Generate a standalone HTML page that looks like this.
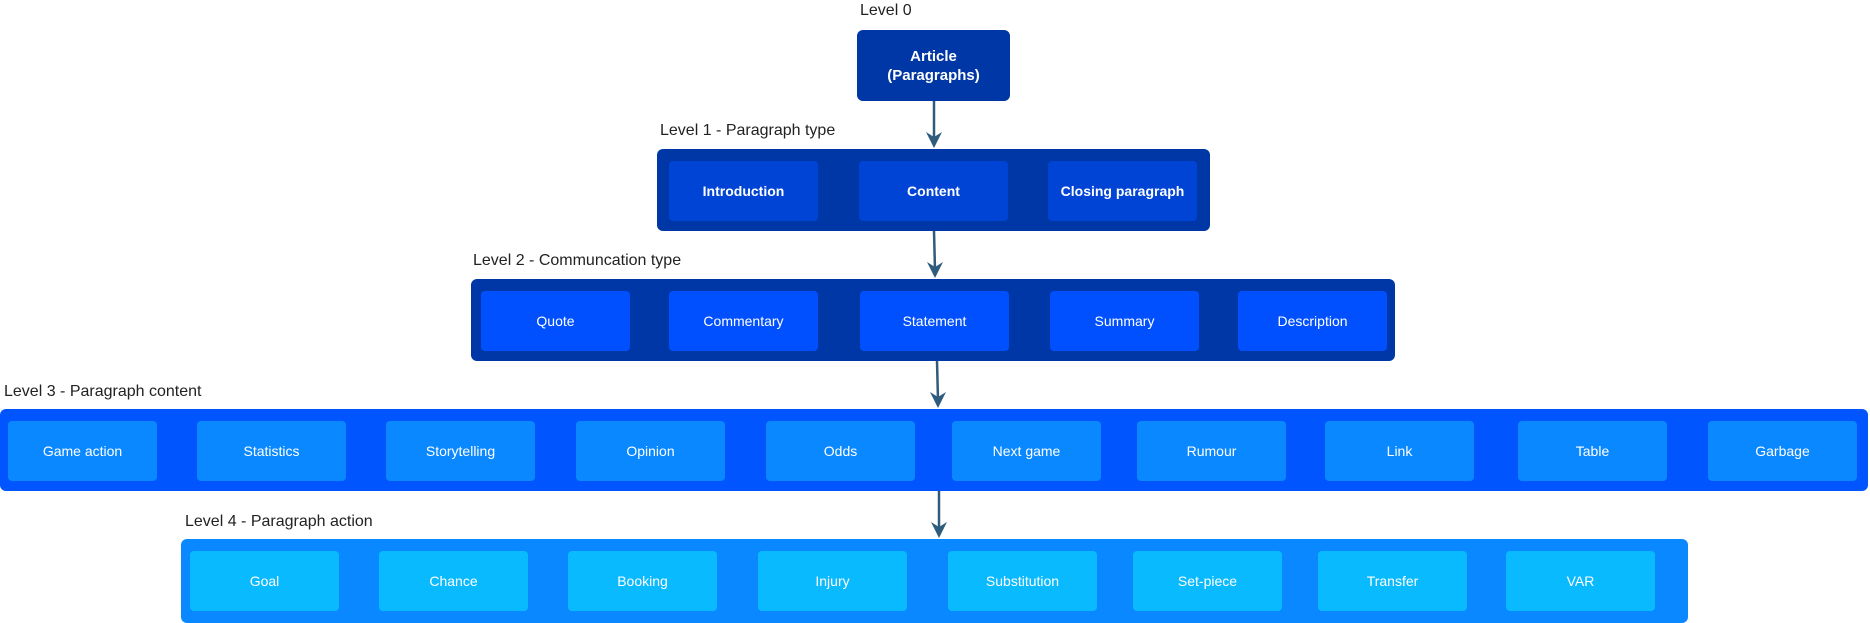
<!DOCTYPE html>
<html><head><meta charset="utf-8"><style>
body{margin:0;width:1870px;height:622px;background:#fff;position:relative;overflow:hidden;font-family:"Liberation Sans",Arial,sans-serif}
.l{position:absolute;font-size:16px;color:#222;white-space:nowrap;line-height:18px}
.c{position:absolute;border-radius:6px}
.b{position:absolute;border-radius:4px;color:#fff;font-size:14px;display:flex;align-items:center;justify-content:center;text-align:center;line-height:19px}
.bold{font-weight:bold}
</style></head><body>
<div class="l" style="left:860px;top:2px">Level 0</div>
<div class="b bold" style="left:857px;top:30px;width:153px;height:71px;background:#0037A6;border-radius:6px;font-size:15px">Article<br>(Paragraphs)</div>

<div class="l" style="left:660px;top:122px">Level 1 - Paragraph type</div>
<div class="c" style="left:657px;top:149px;width:553px;height:82px;background:#0037A6"></div>
<div class="b bold" style="left:669px;top:161px;width:149px;height:60px;background:#0044D6">Introduction</div>
<div class="b bold" style="left:859px;top:161px;width:149px;height:60px;background:#0044D6">Content</div>
<div class="b bold" style="left:1048px;top:161px;width:149px;height:60px;background:#0044D6">Closing paragraph</div>

<div class="l" style="left:473px;top:252px">Level 2 - Communcation type</div>
<div class="c" style="left:471px;top:279px;width:924px;height:82px;background:#0037A6"></div>
<div class="b" style="left:481px;top:291px;width:149px;height:60px;background:#0050FF">Quote</div>
<div class="b" style="left:669px;top:291px;width:149px;height:60px;background:#0050FF">Commentary</div>
<div class="b" style="left:860px;top:291px;width:149px;height:60px;background:#0050FF">Statement</div>
<div class="b" style="left:1050px;top:291px;width:149px;height:60px;background:#0050FF">Summary</div>
<div class="b" style="left:1238px;top:291px;width:149px;height:60px;background:#0050FF">Description</div>

<div class="l" style="left:4px;top:383px">Level 3 - Paragraph content</div>
<div class="c" style="left:0px;top:409px;width:1868px;height:82px;background:#0055FF"></div>
<div class="b" style="left:8px;top:421px;width:149px;height:60px;background:#0A88FF">Game action</div>
<div class="b" style="left:197px;top:421px;width:149px;height:60px;background:#0A88FF">Statistics</div>
<div class="b" style="left:386px;top:421px;width:149px;height:60px;background:#0A88FF">Storytelling</div>
<div class="b" style="left:576px;top:421px;width:149px;height:60px;background:#0A88FF">Opinion</div>
<div class="b" style="left:766px;top:421px;width:149px;height:60px;background:#0A88FF">Odds</div>
<div class="b" style="left:952px;top:421px;width:149px;height:60px;background:#0A88FF">Next game</div>
<div class="b" style="left:1137px;top:421px;width:149px;height:60px;background:#0A88FF">Rumour</div>
<div class="b" style="left:1325px;top:421px;width:149px;height:60px;background:#0A88FF">Link</div>
<div class="b" style="left:1518px;top:421px;width:149px;height:60px;background:#0A88FF">Table</div>
<div class="b" style="left:1708px;top:421px;width:149px;height:60px;background:#0A88FF">Garbage</div>

<div class="l" style="left:185px;top:513px">Level 4 - Paragraph action</div>
<div class="c" style="left:181px;top:539px;width:1507px;height:84px;background:#0A88FF"></div>
<div class="b" style="left:190px;top:551px;width:149px;height:60px;background:#0ABAFF">Goal</div>
<div class="b" style="left:379px;top:551px;width:149px;height:60px;background:#0ABAFF">Chance</div>
<div class="b" style="left:568px;top:551px;width:149px;height:60px;background:#0ABAFF">Booking</div>
<div class="b" style="left:758px;top:551px;width:149px;height:60px;background:#0ABAFF">Injury</div>
<div class="b" style="left:948px;top:551px;width:149px;height:60px;background:#0ABAFF">Substitution</div>
<div class="b" style="left:1133px;top:551px;width:149px;height:60px;background:#0ABAFF">Set-piece</div>
<div class="b" style="left:1318px;top:551px;width:149px;height:60px;background:#0ABAFF">Transfer</div>
<div class="b" style="left:1506px;top:551px;width:149px;height:60px;background:#0ABAFF">VAR</div>

<svg width="1870" height="622" style="position:absolute;left:0;top:0" fill="none">
<g stroke="#2F5B7C" stroke-width="2.5">
<line x1="934" y1="101" x2="934" y2="140"/>
<line x1="934" y1="231" x2="935" y2="270"/>
<line x1="937" y1="361" x2="938" y2="400"/>
<line x1="939" y1="491" x2="939" y2="530"/>
</g>
<g fill="#2F5B7C">
<path d="M926 132 L934 148 L942 132 L934 137Z"/>
<path d="M927 262 L935 278 L943 262 L935 267Z"/>
<path d="M930 392 L938 408 L946 392 L938 397Z"/>
<path d="M931 522 L939 538 L947 522 L939 527Z"/>
</g>
</svg>
</body></html>
